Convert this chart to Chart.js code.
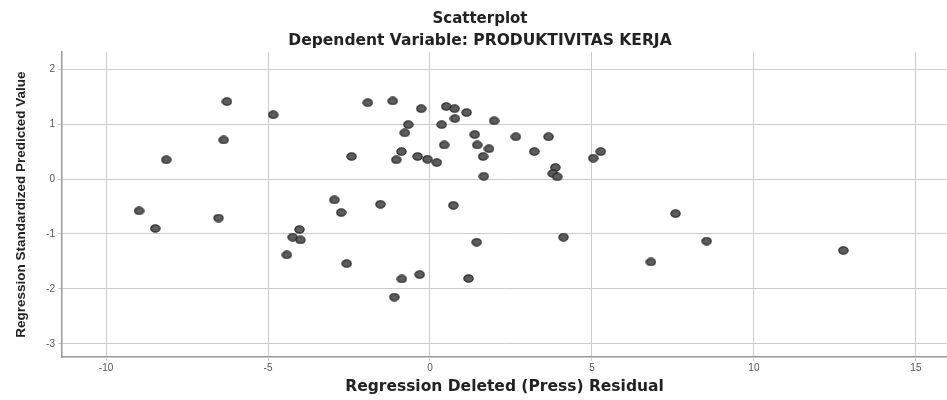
<!DOCTYPE html>
<html>
<head>
<meta charset="utf-8">
<script src="https://cdn.jsdelivr.net/npm/chart.js@4"></script>
<style>
  body { margin: 0; background: #fff; }
  #wrap { width: 947px; height: 400px; }
</style>
</head>
<body>
<div id="wrap"><canvas id="scatter" width="947" height="400"></canvas></div>
<script>
// residual (x) dan predicted value (y)
const residuals = [
  -6.27, -4.84, -6.37, -8.14, -8.98, -8.48, -6.53, -4.03, -4.24, -4.00,
  -4.42, -2.95, -2.74, -2.57, -2.42, -1.92, -1.15, -0.27, 0.50, 0.76,
  1.13, 0.77, 1.98, -0.67, 0.36, -0.78, 1.38, 2.65, 3.66, 0.44,
  1.46, 1.82, 3.22, 5.27, 5.04, -0.88, -1.04, -0.38, -0.08, 0.21,
  1.64, 3.87, 3.79, 3.93, 1.66, -1.53, 0.72, 1.44, 4.12, -0.87,
  -0.32, 1.19, -1.10, 7.58, 8.54, 6.82, 12.76
];
const predicted = [
  1.41, 1.17, 0.71, 0.35, -0.58, -0.90, -0.71, -0.92, -1.06, -1.11,
  -1.38, -0.38, -0.61, -1.54, 0.41, 1.39, 1.42, 1.28, 1.32, 1.28,
  1.21, 1.10, 1.06, 0.99, 0.99, 0.84, 0.81, 0.77, 0.77, 0.62,
  0.62, 0.55, 0.50, 0.50, 0.38, 0.50, 0.35, 0.41, 0.36, 0.30,
  0.41, 0.21, 0.10, 0.04, 0.05, -0.46, -0.48, -1.15, -1.06, -1.82,
  -1.74, -1.81, -2.15, -0.63, -1.13, -1.51, -1.30
];
const xTicks = [-10, -5, 0, 5, 10, 15];
const yTicks = [-3, -2, -1, 0, 1, 2];

const points = residuals.map((x, i) => ({ x: x, y: predicted[i] }));
const font = "'Liberation Sans', Arial, sans-serif";
const wideFont = "'DejaVu Sans', Verdana, sans-serif";

// titik elips kecil seperti output SPSS
const dot = document.createElement("canvas");
dot.width = 11;
dot.height = 9;
const dctx = dot.getContext("2d");
dctx.beginPath();
dctx.ellipse(5.5, 4.5, 4.6, 3.6, 0, 0, Math.PI * 2);
dctx.fillStyle = "#5c5c5c";
dctx.fill();
dctx.lineWidth = 1.2;
dctx.strokeStyle = "#2a2a2a";
dctx.stroke();

new Chart(document.getElementById("scatter"), {
  type: "scatter",
  data: {
    datasets: [{
      data: points,
      pointStyle: dot,
      pointRadius: 4,
      pointHoverRadius: 4
    }]
  },
  options: {
    responsive: false,
    animation: false,
    layout: { autoPadding: false, padding: { left: 13, right: 0, top: 0, bottom: 0 } },
    plugins: {
      legend: { display: false },
      tooltip: { enabled: false },
      title: {
        display: true,
        text: "Scatterplot",
        color: "#222",
        font: { family: wideFont, size: 15, weight: "bold" },
        padding: { top: 10, bottom: 4 }
      },
      subtitle: {
        display: true,
        text: "Dependent Variable: PRODUKTIVITAS KERJA",
        color: "#222",
        font: { family: wideFont, size: 15.5, weight: "bold" },
        padding: { top: 0, bottom: 1.5 }
      }
    },
    scales: {
      x: {
        type: "linear",
        min: -11.36,
        max: 15.96,
        afterBuildTicks: (s) => { s.ticks = xTicks.map((v) => ({ value: v })); },
        afterFit: (s) => { s.height = 43; },
        border: { color: "#999", width: 1.5 },
        grid: { color: "#cccccc", tickLength: 4 },
        ticks: { color: "#555", font: { family: font, size: 10 }, padding: 1 },
        title: {
          display: true,
          text: "Regression Deleted (Press) Residual",
          color: "#222",
          font: { family: wideFont, size: 15.5, weight: "bold" },
          padding: { top: 0, bottom: 4 }
        }
      },
      y: {
        type: "linear",
        min: -3.24,
        max: 2.31,
        afterBuildTicks: (s) => { s.ticks = yTicks.map((v) => ({ value: v })); },
        afterFit: (s) => { s.width = 49; },
        border: { color: "#999", width: 1.5 },
        grid: { color: "#cccccc", tickLength: 4 },
        ticks: { color: "#555", font: { family: font, size: 10 }, padding: 3 },
        title: {
          display: true,
          text: "Regression Standardized Predicted Value",
          color: "#222",
          font: { family: font, size: 13.5, weight: "bold" },
          padding: { top: 0, bottom: 2 }
        }
      }
    }
  }
});
</script>
</body>
</html>
